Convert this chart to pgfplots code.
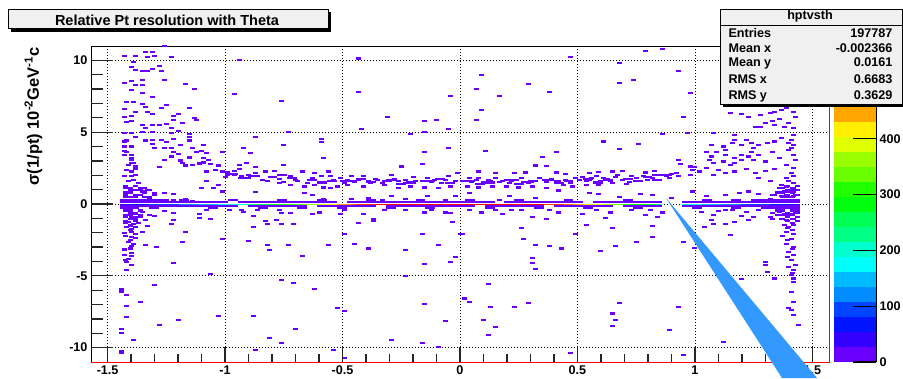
\documentclass[border=0pt]{standalone}
\usepackage{fontspec}
\setmainfont{Liberation Sans}
\usepackage{pgfplots}
\pgfplotsset{compat=1.18}

\definecolor{lvl0}{RGB}{105,0,255}
\definecolor{paneback}{RGB}{240,240,240}
\definecolor{pointer}{RGB}{51,153,255}

\newcommand\lab{\fontsize{12.6}{15}\selectfont\bfseries}

% one histogram cell, two neighbouring cells along x, and a thin pair for the crowded row
\pgfdeclareplotmark{cell}{\pgfpathrectangle{\pgfqpoint{-2.5pt}{-1.05pt}}{\pgfqpoint{5pt}{2.1pt}}\pgfusepathqfill}
\pgfdeclareplotmark{cellpair}{\pgfpathrectangle{\pgfqpoint{-4.95pt}{-1.05pt}}{\pgfqpoint{9.9pt}{2.1pt}}\pgfusepathqfill}
\pgfdeclareplotmark{thinpair}{\pgfpathrectangle{\pgfqpoint{-4.95pt}{-0.5pt}}{\pgfqpoint{9.9pt}{1.0pt}}\pgfusepathqfill}

\pgfplotsset{
  frame/.style={at={(91pt,16pt)}, anchor=south west, scale only axis,
    width=738pt, height=316pt,
    xmin=-1.5708, xmax=1.5708, ymin=-11, ymax=11},
}

\begin{document}
\begin{tikzpicture}
\useasboundingbox (0,0) rectangle (903pt,378pt);

\begin{axis}[frame,
  axis on top,
  xtick={-1.5,-1,-0.5,0,0.5,1,1.5},
  xticklabels={-1.5,-1,-0.5,0,0.5,1,1.5},
  ytick={-10,-5,0,5,10},
  yticklabels={-10,-5,0,5,10},
  major tick length=0pt, minor tick length=0pt,
  grid=major,
  grid style={black, line width=0.7pt, dash pattern=on 0.9pt off 2.1pt},
  axis line style={black, line width=0.8pt},
  tick label style={font=\lab},
  colormap={rootpal}{rgb255=(105,0,255) rgb255=(51,0,255) rgb255=(0,20,255)
    rgb255=(0,68,255) rgb255=(0,139,255) rgb255=(0,187,255) rgb255=(0,255,252)
    rgb255=(0,255,204) rgb255=(0,255,133) rgb255=(0,255,85) rgb255=(0,255,14)
    rgb255=(34,255,0) rgb255=(105,255,0) rgb255=(153,255,0) rgb255=(224,255,0)
    rgb255=(255,238,0) rgb255=(255,167,0) rgb255=(255,119,0) rgb255=(255,48,0)
    rgb255=(255,0,0) rgb255=(255,0,0)},
  colormap access=piecewise constant,
  point meta min=0, point meta max=566,
  colorbar,
  colorbar style={
    at={(parent axis.south east)}, anchor=south west, xshift=-3.5pt,
    scale only axis, width=42pt, height=316pt,
    ytick={0,100,200,300,400}, yticklabels={0,100,200,300,400},
    yticklabel pos=right, ytick pos=right,
    minor y tick num=0,
    major tick length=23pt, tick align=inside,
    tick style={black, line width=1.2pt},
    axis line style={draw=none},
    tick label style={font=\lab},
    extra description/.code={\draw[black, line width=1pt] (rel axis cs:1,0) -- (rel axis cs:1,1);},
  },
]

% rows of cells hugging y = 0, and the thickest stretch of the upper band
\addplot[only marks, mark=cellpair, color=lvl0] coordinates {
 (-1.428,0.12) (-1.386,0.12) (-1.344,0.12) (-1.302,0.12) (-1.260,0.12) (-1.218,0.12) (-1.176,0.12)
 (-1.134,0.12) (-1.092,0.12) (-1.050,0.12) (-1.008,0.12) (-0.924,0.12) (-0.882,0.12) (-0.840,0.12)
 (-0.798,0.12) (-0.756,0.12) (-0.714,0.12) (-0.672,0.12) (-0.630,0.12) (-0.588,0.12) (-0.546,0.12)
 (-0.462,0.12) (-0.420,0.12) (-0.378,0.12) (-0.336,0.12) (-0.294,0.12) (-0.252,0.12) (-0.210,0.12)
 (-0.168,0.12) (-0.126,0.12) (-0.084,0.12) (-0.042,0.12) (0.000,0.12) (0.042,0.12) (0.084,0.12)
 (0.126,0.12) (0.210,0.12) (0.252,0.12) (0.294,0.12) (0.336,0.12) (0.378,0.12) (0.420,0.12)
 (0.462,0.12) (0.504,0.12) (0.588,0.12) (0.630,0.12) (0.672,0.12) (0.714,0.12) (0.756,0.12)
 (0.798,0.12) (0.840,0.12) (0.966,0.12) (1.008,0.12) (1.050,0.12) (1.092,0.12) (1.134,0.12)
 (1.176,0.12) (1.218,0.12) (1.260,0.12) (1.302,0.12) (1.344,0.12) (1.386,0.12) (1.428,0.12)
 (-1.428,-0.12) (-1.386,-0.12) (-1.344,-0.12) (-1.302,-0.12) (-1.260,-0.12) (-1.218,-0.12) (-1.176,-0.12)
 (-1.134,-0.12) (-1.092,-0.12) (-1.050,-0.12) (-1.008,-0.12) (-0.966,-0.12) (-0.882,-0.12) (-0.840,-0.12)
 (-0.798,-0.12) (-0.756,-0.12) (-0.714,-0.12) (-0.672,-0.12) (-0.588,-0.12) (-0.546,-0.12) (-0.504,-0.12)
 (-0.462,-0.12) (-0.420,-0.12) (-0.378,-0.12) (-0.294,-0.12) (-0.252,-0.12) (-0.210,-0.12) (-0.168,-0.12)
 (-0.126,-0.12) (-0.084,-0.12) (-0.042,-0.12) (0.000,-0.12) (0.042,-0.12) (0.126,-0.12) (0.168,-0.12)
 (0.210,-0.12) (0.252,-0.12) (0.294,-0.12) (0.336,-0.12) (0.420,-0.12) (0.462,-0.12) (0.504,-0.12)
 (0.546,-0.12) (0.588,-0.12) (0.630,-0.12) (0.714,-0.12) (0.756,-0.12) (0.798,-0.12) (0.840,-0.12)
 (0.966,-0.12) (1.008,-0.12) (1.050,-0.12) (1.092,-0.12) (1.134,-0.12) (1.176,-0.12) (1.218,-0.12)
 (1.260,-0.12) (1.302,-0.12) (1.344,-0.12) (1.386,-0.12) (1.428,-0.12)
 (-1.428,0.27) (-1.386,0.27) (-1.344,0.27) (-1.302,0.27) (-1.260,0.27) (-1.176,0.27)
 (-0.966,0.27) (-0.756,0.27) (-0.588,0.27) (-0.378,0.27) (-0.168,0.27) (0.042,0.27)
 (0.252,0.27) (0.462,0.27) (0.714,0.27) (1.050,0.27) (1.176,0.27) (1.260,0.27)
 (1.302,0.27) (1.344,0.27) (1.386,0.27) (1.428,0.27)
 (-1.428,-0.27) (-1.386,-0.27) (-1.302,-0.27) (-1.050,-0.27)
 (-0.840,-0.27) (-0.672,-0.27) (-0.504,-0.27) (-0.294,-0.27) (-0.126,-0.27) (0.126,-0.27) (0.336,-0.27)
 (0.546,-0.27) (0.756,-0.27) (1.008,-0.27) (1.176,-0.27) (1.302,-0.27)
 (1.344,-0.27) (1.386,-0.27) (1.428,-0.27)
 (-0.966,2.10) (-0.882,1.95) (-0.798,1.85) (-0.714,1.80) (-0.630,1.65) (-0.546,1.60) (-0.462,1.62)
 (-0.378,1.55) (-0.294,1.70) (-0.210,1.50) (-0.126,1.60) (-0.042,1.48) (0.042,1.62) (0.126,1.50)
 (0.210,1.65) (0.294,1.55) (0.378,1.70) (0.462,1.58) (0.546,1.75) (0.630,1.68) (0.714,1.72)
 (0.798,1.85) (0.840,1.70)
 (-0.924,1.80) (-0.756,2.00) (-0.588,1.50) (-0.420,1.75) (-0.252,1.40) (-0.084,1.75) (0.084,1.40)
 (0.252,1.42) (0.420,1.45) (0.588,1.50) (0.756,1.60) (0.882,2.05)
};

% single low-count cells
\addplot[only marks, mark=cell, color=lvl0] coordinates {
 (-1.43,10.30) (-1.39,9.90) (-1.34,10.60) (-1.31,10.60) (-1.26,10.99) (-1.38,10.30) (-1.33,10.25)
 (-1.30,10.30) (-1.23,10.23) (-0.94,10.02) (-0.43,10.13)
 (-1.40,9.51) (-1.38,9.32) (-1.35,9.25) (-1.31,9.39) (-1.28,9.60) (-1.27,9.25) (-1.33,9.25)
 (-1.26,8.63) (-1.40,8.56) (-1.35,8.63) (-1.43,8.44) (-1.38,8.28) (-1.35,8.28) (-1.17,8.35)
 (-1.13,8.00) (-0.96,7.63) (-0.76,7.19) (-0.43,7.82) (-0.04,7.54)
 (-1.40,7.93) (-1.35,7.70) (-1.31,7.47) (-1.42,7.13) (-1.39,7.13) (-1.35,6.96) (-1.34,6.78)
 (-1.27,6.66) (-1.25,6.89) (-1.43,6.59) (-1.15,6.66)
 (-1.43,6.04) (-1.40,6.15) (-1.38,6.43) (-1.33,6.43) (-1.31,6.27) (-1.22,6.15) (-1.20,6.25)
 (-1.13,6.01) (-1.12,5.87) (-0.31,6.04) (-0.15,5.78) (-0.10,5.85)
 (-1.42,5.69) (-1.40,5.78) (-1.35,5.50) (-1.31,5.50) (-1.28,5.50) (-1.25,5.57) (-1.22,5.83)
 (-1.18,5.67) (-1.34,5.27) (-1.23,5.27) (-0.42,5.23) (-0.05,5.23)
 (-1.43,4.97) (-1.40,4.93) (-1.35,5.00) (-1.31,5.00) (-1.23,4.93) (-1.20,5.09) (-1.15,4.86)
 (-0.73,5.04) (-0.21,4.88) (-0.15,5.04)
 (-1.43,4.35) (-1.42,4.42) (-1.38,4.69) (-1.34,4.42) (-1.31,4.46) (-1.27,4.46) (-1.25,4.30)
 (-1.22,4.51) (-1.19,4.12) (-1.15,4.69) (-1.15,4.42) (-1.09,4.12) (-0.87,4.69) (-0.75,4.12)
 (-0.59,4.51) (-0.59,4.30)
 (-1.43,4.00) (-1.43,3.70) (-1.40,4.00) (-1.31,4.16) (-1.30,3.88) (-1.26,3.88) (-1.23,3.88)
 (-1.22,3.61) (-1.20,3.49) (-1.14,3.88) (-1.12,3.61) (-1.10,3.70) (-1.08,3.54) (-1.01,3.59)
 (-0.92,3.88) (-0.89,3.54) (-0.15,3.61) (-0.05,3.88)
 (-1.43,3.42) (-1.40,3.19) (-1.26,3.07) (-1.23,3.31) (-1.19,3.03) (-1.15,3.24) (-1.09,3.19)
 (-1.07,3.05) (-0.58,3.19)
 (-1.40,2.84) (-1.38,2.61) (-1.28,2.56) (-1.18,2.84) (-1.17,2.68) (-1.14,2.73) (-1.11,2.82)
 (-1.09,2.89) (-1.06,2.77) (-1.03,2.68) (-0.94,2.73) (-0.91,2.84) (-0.87,2.56) (-0.75,2.73)
 (-0.25,2.61) (-0.16,2.77)
 (-1.08,2.26) (-1.04,2.38) (-1.01,2.26) (-0.99,2.19) (-0.94,2.45) (-0.96,2.03) (-0.93,1.92)
 (-0.90,1.80) (-0.87,2.15) (-0.86,1.92) (-0.83,2.26) (-0.79,2.31) (-0.84,1.69) (-0.82,1.57)
 (-0.77,1.75) (-0.75,1.52) (-0.72,1.92) (-0.70,1.69) (-0.67,2.26) (-0.65,1.45) (-0.62,2.15)
 (-0.59,1.92) (-0.56,2.26) (-0.54,1.69) (-0.51,1.80) (-0.49,1.50) (-0.46,1.92) (-0.43,1.64)
 (-0.41,1.97) (-0.38,1.45) (-0.35,1.69) (-0.32,1.57) (-0.29,2.03) (-0.26,1.57) (-0.23,1.69)
 (-0.20,1.85) (-0.16,1.57) (-0.14,1.80) (-0.11,1.69) (-0.08,1.45) (-0.05,1.92) (-0.02,1.62)
 (-0.01,2.15)
 (-0.72,1.34) (-0.66,1.22) (-0.62,1.34) (-0.58,1.15) (-0.52,1.22) (-0.48,1.34) (-0.41,1.22)
 (-0.32,1.34) (-0.26,1.11) (-0.21,1.22) (-0.15,1.15) (-0.09,1.11) (-0.04,1.22)
 (-0.50,1.57) (-0.48,1.69) (-0.45,1.52) (-0.39,1.57) (-0.36,1.75) (-0.33,1.45) (-0.30,1.57)
 (-0.28,1.75) (-0.23,1.45) (-0.19,1.57) (-0.12,1.52) (-0.06,1.69) (-0.04,1.45) (-0.63,1.80)
 (-0.55,1.92) (-0.69,1.57) (-0.77,1.45) (-0.90,2.03) (-0.96,2.31) (-0.99,2.03)
 (-1.03,1.34) (-1.00,1.87) (-0.87,0.83) (-0.66,0.76) (-0.63,0.64) (-0.55,1.11) (-0.58,0.37)
 (-0.46,0.37) (-0.39,0.41) (-0.33,0.30) (-0.29,0.53) (-0.23,0.37) (-0.14,0.53) (-0.06,0.30)
 (-0.02,0.53) (-1.33,0.97) (-1.30,0.76) (-1.26,0.76) (-1.22,0.69) (-1.08,1.62) (-1.05,1.11)
 (-1.01,0.87) (-1.10,1.11)
 (-1.42,3.65) (-1.40,3.42) (-1.40,3.07) (-1.41,2.73) (-1.39,2.84) (-1.42,2.38) (-1.40,2.26)
 (-1.38,2.45) (-1.43,1.92) (-1.40,1.92) (-1.38,2.03) (-1.41,1.57) (-1.39,1.69) (-1.37,1.45)
 (-1.35,0.87) (-1.34,0.46) (-1.32,0.37) (-1.30,0.30) (-1.22,0.30) (-1.17,0.37) (-1.14,0.23)
 (-1.425,1.25) (-1.383,1.25)
 (-1.425,1.10) (-1.404,1.10) (-1.362,1.10)
 (-1.404,0.95) (-1.383,0.95) (-1.362,0.95) (-1.320,0.95)
 (-1.425,0.80) (-1.404,0.80) (-1.341,0.80)
 (-1.425,0.65) (-1.383,0.65) (-1.362,0.65) (-1.299,0.65)
 (-1.425,0.50) (-1.404,0.50) (-1.383,0.50) (-1.341,0.50)
 (-1.341,1.10) (-1.320,0.50)
 (0.47,10.23) (0.79,10.67) (0.86,10.76) (0.68,9.79) (0.09,8.98) (0.29,8.35) (0.07,8.00)
 (0.17,7.54) (0.38,7.82) (0.74,8.63) (0.68,8.44) (0.93,9.25) (0.98,7.75) (0.09,6.55)
 (0.07,5.85) (0.95,6.04) (0.86,4.88) (0.97,4.93) (1.08,4.93) (1.17,4.81) (0.61,4.35)
 (0.76,4.16) (0.11,3.70) (0.41,3.65) (0.35,3.26) (0.68,3.82) (0.32,2.68) (0.37,2.66)
 (0.08,2.26) (0.15,2.15) (0.23,2.15) (0.28,2.19) (0.41,2.19) (0.45,2.08) (0.55,2.15)
 (0.59,2.22) (0.65,2.26) (0.69,2.31) (0.79,2.19) (0.83,2.31) (0.93,3.07) (0.94,2.77)
 (0.98,2.61) (0.99,2.38) (1.00,2.56) (0.98,2.03) (0.93,1.92)
 (1.15,6.31) (1.20,6.25) (1.23,6.08) (1.28,6.20) (1.32,6.31) (1.34,6.43) (1.37,6.55)
 (1.39,6.66) (1.42,6.43) (1.43,6.08) (1.36,5.92) (1.33,5.78) (1.30,5.62) (1.26,5.39)
 (1.28,5.39) (1.34,5.50) (1.38,5.39) (1.40,5.62) (1.42,5.27)
 (1.07,4.12) (1.09,3.61) (1.12,4.00) (1.13,3.42) (1.16,4.23) (1.17,4.46) (1.20,4.12)
 (1.22,4.46) (1.24,4.23) (1.25,3.88) (1.27,4.12) (1.31,4.23) (1.34,4.35) (1.37,4.58)
 (1.40,4.23) (1.41,3.88)
 (1.06,3.07) (1.08,2.84) (1.12,2.96) (1.15,2.73) (1.17,3.19) (1.20,3.07) (1.23,3.31)
 (1.25,3.07) (1.17,2.84) (1.20,3.42)
 (1.05,3.65) (1.07,3.31) (1.13,3.77) (1.24,3.65) (1.27,3.42) (1.30,2.96) (1.33,3.65)
 (1.36,3.19) (1.02,2.26) (1.05,2.50) (1.10,2.38) (1.08,2.03) (1.13,2.15) (1.17,2.26)
 (1.22,2.45) (1.26,2.15) (1.30,2.31) (1.34,2.45) (1.27,1.80) (1.32,1.57)
 (1.42,4.81) (1.41,4.46) (1.42,4.12) (1.40,3.77) (1.42,3.42) (1.43,3.07) (1.39,2.73)
 (1.42,2.50) (1.41,2.15) (1.42,1.92) (1.39,1.80) (1.40,1.57) (1.42,1.45) (1.37,1.34)
 (1.39,1.22) (1.42,1.11) (1.36,1.11) (1.38,0.87) (1.40,0.87) (1.42,0.87) (1.34,0.64)
 (1.37,0.53) (1.39,0.64) (1.42,0.53) (1.43,0.64) (1.32,0.37) (1.35,0.30) (1.30,0.18)
 (1.394,1.25) (1.436,1.25)
 (1.373,1.10) (1.415,1.10)
 (1.394,0.95) (1.415,0.95) (1.436,0.95)
 (1.373,0.80) (1.415,0.80) (1.352,0.80)
 (1.394,0.65) (1.436,0.65) (1.331,0.65)
 (1.373,0.50) (1.394,0.50) (1.415,0.50)
 (0.01,1.57) (0.04,1.80) (0.07,1.69) (0.10,1.52) (0.13,1.62) (0.15,1.80) (0.18,1.57)
 (0.21,1.45) (0.24,1.69) (0.27,1.52) (0.30,1.62) (0.34,1.80) (0.37,1.52) (0.41,1.57)
 (0.44,1.34) (0.47,1.45) (0.51,1.69) (0.54,1.57) (0.56,1.80) (0.60,1.62) (0.63,1.75)
 (0.66,1.85) (0.69,1.69) (0.72,1.52) (0.75,1.80) (0.78,1.92) (0.82,1.80) (0.85,1.99)
 (0.88,1.92) (0.90,2.08)
 (0.03,1.22) (0.08,1.15) (0.14,1.22) (0.20,1.22) (0.25,1.15) (0.31,1.22) (0.37,1.11)
 (0.42,0.94) (0.48,1.22) (0.54,1.34) (0.59,1.34) (0.65,1.45) (0.71,1.38) (0.76,1.57)
 (0.03,1.62) (0.05,1.52) (0.08,1.80) (0.12,1.69) (0.17,1.52) (0.22,1.62) (0.26,1.80)
 (0.29,1.45) (0.32,1.57) (0.36,1.69) (0.39,1.75) (0.42,1.57) (0.45,1.69) (0.49,1.80)
 (0.52,1.85) (0.55,1.69) (0.58,1.92) (0.61,1.80) (0.64,1.57) (0.67,1.99) (0.73,1.92)
 (0.80,1.69) (0.83,1.99) (0.89,1.80) (0.92,2.15)
 (0.04,0.76) (0.17,0.30) (0.21,0.53) (0.32,0.41) (0.55,0.76) (0.59,0.69) (0.68,0.46)
 (0.77,0.71) (0.82,0.64) (0.90,0.41) (0.99,0.87) (1.05,0.53) (1.13,0.60) (1.19,0.76)
 (1.23,0.87) (1.27,0.69)
 (-1.40,-0.63) (-1.38,-0.67) (-1.35,-0.56) (-1.40,-0.91) (-1.38,-1.02) (-1.36,-0.91) (-1.34,-1.09)
 (-1.41,-1.25) (-1.39,-1.37) (-1.37,-1.32) (-1.42,-1.60) (-1.40,-1.72) (-1.38,-1.60) (-1.33,-1.55)
 (-1.40,-1.95) (-1.38,-2.06) (-1.43,-2.02) (-1.35,-1.95) (-1.40,-2.29) (-1.41,-2.64) (-1.40,-2.94)
 (-1.39,-2.76) (-1.34,-2.87) (-1.29,-2.99) (-1.43,-3.17) (-1.40,-3.41) (-1.40,-3.64) (-1.43,-3.57)
 (-1.41,-3.80) (-1.42,-4.03) (-1.40,-4.26) (-1.42,-4.61) (-1.22,-4.08) (-1.18,-2.64) (-1.17,-1.95)
 (-1.06,-4.89)
 (-1.425,-0.45) (-1.404,-0.45) (-1.362,-0.45)
 (-1.404,-0.60) (-1.383,-0.60)
 (-1.425,-0.75) (-1.404,-0.75) (-1.362,-0.75)
 (-1.425,-0.90) (-1.383,-0.90)
 (-1.404,-1.05) (-1.425,-1.20) (-1.383,-1.20)
 (-1.425,-1.35) (-1.404,-1.50) (-1.404,-1.80) (-1.425,-2.20) (-1.404,-2.50)
 (-1.383,-2.35) (-1.404,-3.10) (-1.425,-3.90)
 (-1.32,-0.79) (-1.30,-0.86) (-1.26,-0.49) (-1.22,-0.61) (-1.22,-1.14) (-1.11,-0.67) (-1.11,-0.98)
 (-1.08,-0.44) (-1.06,-1.02) (-1.01,-2.41) (-1.23,-1.42) (-0.98,-0.44) (-0.92,-0.56) (-0.88,-0.81)
 (-0.88,-1.60) (-0.90,-2.57) (-0.82,-1.37) (-0.82,-2.87) (-0.81,-3.22) (-0.83,-1.18) (-0.78,-1.14)
 (-0.76,-0.63) (-0.76,-1.42) (-0.73,-2.87) (-0.72,-0.63) (-0.71,-1.37) (-0.67,-3.64) (-0.63,-0.67)
 (-0.56,-2.85) (-0.51,-0.72) (-0.49,-2.06) (-0.49,-0.44) (-0.45,-2.76) (-0.43,-1.32) (-0.41,-0.67)
 (-0.37,-1.02) (-0.37,-1.18) (-0.39,-3.10) (-0.23,-3.22) (-0.16,-2.06) (-0.15,-4.15) (-0.09,-2.83)
 (-0.04,-0.63) (-0.03,-1.25) (-0.02,-3.68) (-0.04,-4.01) (0.00,-2.06) (-0.23,-0.44) (-0.15,-0.59)
 (-0.32,-0.44) (-0.60,-0.59) (-0.77,-0.44) (-0.86,-0.44) (-0.12,-0.44) (-0.06,-0.59) (-0.93,-0.44)
 (-1.44,-5.95) (-1.44,-6.11) (-1.42,-6.35) (-1.30,-5.65) (-1.36,-6.85) (-1.42,-7.11) (-1.42,-7.85)
 (-1.03,-7.80) (-1.28,-8.43) (-1.20,-8.08) (-1.44,-8.71) (-1.44,-8.96) (-1.39,-9.47) (-0.76,-5.30)
 (-0.71,-5.49) (-0.62,-5.93) (-0.52,-7.27) (-0.49,-7.46) (-0.88,-7.80) (-0.70,-8.71) (-0.81,-9.33)
 (-0.76,-9.68) (-0.29,-9.47) (-0.16,-9.68) (-0.23,-5.03) (-0.15,-6.99) (-0.06,-8.15) (-1.44,-10.21)
 (-1.44,-10.35) (-0.87,-10.17) (-0.54,-10.19) (-0.49,-10.74) (-0.09,-9.93)
 (1.36,-0.56) (1.38,-0.67) (1.41,-0.67) (1.43,-0.63) (1.37,-1.02) (1.39,-1.14) (1.42,-1.02)
 (1.38,-1.48) (1.40,-1.60) (1.42,-1.48) (1.39,-1.95) (1.42,-2.06) (1.41,-2.41) (1.39,-2.76)
 (1.42,-2.99) (1.40,-3.34) (1.42,-3.57) (1.41,-3.92) (1.43,-4.26) (1.40,-4.38) (1.42,-4.61)
 (1.41,-4.96) (1.42,-5.19) (1.42,-5.42) (1.41,-6.11) (1.42,-6.81) (1.40,-7.27) (1.41,-7.39)
 (1.42,-7.74) (1.44,-8.43) (1.30,-4.03) (1.30,-4.26) (1.31,-4.73) (1.34,-5.19) (1.20,-5.23)
 (1.373,-0.45) (1.415,-0.45) (1.436,-0.45)
 (1.394,-0.60) (1.436,-0.60)
 (1.373,-0.75) (1.394,-0.75) (1.415,-0.75)
 (1.394,-0.90) (1.436,-0.90)
 (1.373,-1.05) (1.415,-1.05)
 (1.394,-1.20) (1.436,-1.20)
 (1.415,-1.35)
 (1.352,-0.45) (1.352,-0.75) (1.331,-0.60) (1.394,-1.65) (1.415,-1.80) (1.373,-2.20) (1.394,-2.50)
 (1.415,-3.15) (1.394,-3.70) (1.415,-4.80)
 (1.03,-0.56) (1.08,-0.79) (1.10,-0.49) (1.13,-0.44) (1.16,-0.44) (1.22,-0.56) (1.25,-0.91)
 (1.20,-0.86) (1.23,-1.14) (1.27,-0.44) (1.32,-0.91) (1.33,-1.02) (1.08,-1.37) (1.13,-1.42)
 (1.04,-1.60) (1.15,-2.13) (1.17,-1.25) (1.07,-1.14)
 (0.04,-0.44) (0.09,-0.59) (0.15,-0.44) (0.18,-0.67) (0.26,-0.44) (0.31,-0.91) (0.37,-1.07)
 (0.26,-1.67) (0.27,-2.46) (0.32,-2.85) (0.38,-2.94) (0.43,-3.10) (0.31,-3.73) (0.31,-4.08)
 (0.32,-4.52) (0.01,-2.11) (0.49,-2.11) (0.52,-0.67) (0.54,-1.48) (0.62,-0.98) (0.65,-1.69)
 (0.66,-2.94) (0.60,-3.29) (0.75,-2.67) (0.79,-0.79) (0.82,-1.55) (0.82,-2.29) (0.84,-0.91)
 (0.95,-2.67) (1.00,-3.06) (0.12,-5.58) (0.02,-6.58) (0.04,-6.85) (0.13,-7.20) (0.23,-7.20)
 (0.29,-6.92) (0.10,-8.08) (0.15,-8.54) (0.12,-9.15) (0.47,-10.35) (0.68,-6.92) (0.65,-7.62)
 (0.66,-8.08) (0.65,-8.50) (0.89,-8.78) (0.93,-7.20) (0.95,-10.51) (1.12,-9.59) (0.58,-0.44)
 (0.64,-0.59) (0.73,-0.44) (0.81,-0.44) (0.86,-0.59) (0.22,-0.44) (0.38,-0.44) (0.42,-0.59)
};

% the well measured tracks: the crowded row at y = 0, coloured by content
\addplot[scatter, only marks, mark=thinpair, point meta=explicit,
  scatter/use mapped color={draw=none, fill=mapped color}] coordinates {
 (-1.428,0) [40] (-1.386,0) [60] (-1.344,0) [75] (-1.302,0) [85] (-1.260,0) [95]
 (-1.218,0) [105] (-1.176,0) [115] (-1.134,0) [130] (-1.092,0) [145] (-1.050,0) [160]
 (-1.008,0) [175] (-0.966,0) [190] (-0.924,0) [210] (-0.882,0) [235] (-0.840,0) [255]
 (-0.798,0) [280] (-0.756,0) [300] (-0.714,0) [320] (-0.672,0) [350] (-0.630,0) [370]
 (-0.588,0) [400] (-0.546,0) [420] (-0.504,0) [440] (-0.462,0) [470] (-0.420,0) [500]
 (-0.378,0) [510] (-0.336,0) [520] (-0.294,0) [530] (-0.252,0) [540] (-0.210,0) [545]
 (-0.168,0) [550] (-0.126,0) [555] (-0.084,0) [558] (-0.042,0) [560] (0.000,0) [562]
 (0.042,0) [560] (0.084,0) [558] (0.126,0) [555] (0.168,0) [550] (0.210,0) [545]
 (0.252,0) [540] (0.294,0) [530] (0.336,0) [520] (0.378,0) [510] (0.420,0) [500]
 (0.462,0) [470] (0.504,0) [440] (0.546,0) [420] (0.588,0) [400] (0.630,0) [370]
 (0.672,0) [350] (0.714,0) [320] (0.756,0) [300] (0.798,0) [280] (0.840,0) [255]
 (0.966,0) [190] (1.008,0) [175] (1.050,0) [160] (1.092,0) [145] (1.134,0) [130]
 (1.176,0) [115] (1.218,0) [105] (1.260,0) [95] (1.302,0) [85] (1.344,0) [75]
 (1.386,0) [60] (1.428,0) [40]
};
\end{axis}

% tick marks along x
\begin{axis}[frame,
  axis line style={draw=none},
  xtick={-1.5,-1,-0.5,0,0.5,1,1.5}, xticklabels={},
  minor x tick num=4, ytick=\empty,
  xtick pos=left, tick align=inside,
  major tick length=15pt, minor tick length=8pt,
  tick style={black!85, line width=1.3pt},
]
\end{axis}

% tick marks along y
\begin{axis}[frame,
  axis line style={draw=none},
  ytick={-10,-5,0,5,10}, yticklabels={},
  minor y tick num=4, xtick=\empty,
  ytick pos=left, tick align=inside,
  major tick length=22pt, minor tick length=12pt,
  tick style={black!85, line width=1.3pt},
]
\end{axis}

% frame edges of the selected pad
\draw[red, line width=1.3pt] (91pt,15.2pt) -- (829.8pt,15.2pt) -- (829.8pt,332pt);

% y title
\node[rotate=90, anchor=east, font=\fontsize{16.5}{19}\selectfont\bfseries, inner sep=0pt]
  at (33.5pt,331pt) {σ(1/pt) 10\textsuperscript{-2}GeV\textsuperscript{-1}c};

% histogram title
\fill[black] (11pt,346.3pt) rectangle (331pt,366pt);
\filldraw[fill=paneback, draw=black, line width=0.8pt] (8.3pt,349.7pt) rectangle (328pt,368.7pt);
\node[anchor=base, font=\fontsize{14.5}{17}\selectfont\bfseries, inner sep=0pt]
  at (167pt,352.3pt) {Relative Pt resolution with Theta};

% statistics box
\fill[black] (723pt,271.3pt) rectangle (906pt,365pt);
\filldraw[fill=paneback, draw=black, line width=0.8pt] (720pt,274pt) rectangle (902.4pt,368.7pt);
\draw[black, line width=0.8pt] (720pt,353pt) -- (902.4pt,353pt);
\begin{scope}[every node/.style={font=\lab, inner sep=0pt}]
\node[anchor=base] at (810pt,358pt) {hptvsth};
\node[anchor=base west] at (728.3pt,340.7pt) {Entries};
\node[anchor=base west] at (728.3pt,325.5pt) {Mean x};
\node[anchor=base west] at (728.3pt,311pt) {Mean y};
\node[anchor=base west] at (728.3pt,294pt) {RMS x};
\node[anchor=base west] at (728.3pt,278.7pt) {RMS y};
\node[anchor=base east] at (892.7pt,340.7pt) {197787};
\node[anchor=base east] at (892.7pt,325.5pt) {-0.002366};
\node[anchor=base east] at (892.7pt,311pt) {0.0161};
\node[anchor=base east] at (892.7pt,294pt) {0.6683};
\node[anchor=base east] at (892.7pt,278.7pt) {0.3629};
\end{scope}

% pointer
\fill[pointer] (666pt,180pt) -- (782pt,0pt) -- (817pt,0pt) -- cycle;
\end{tikzpicture}
\end{document}
